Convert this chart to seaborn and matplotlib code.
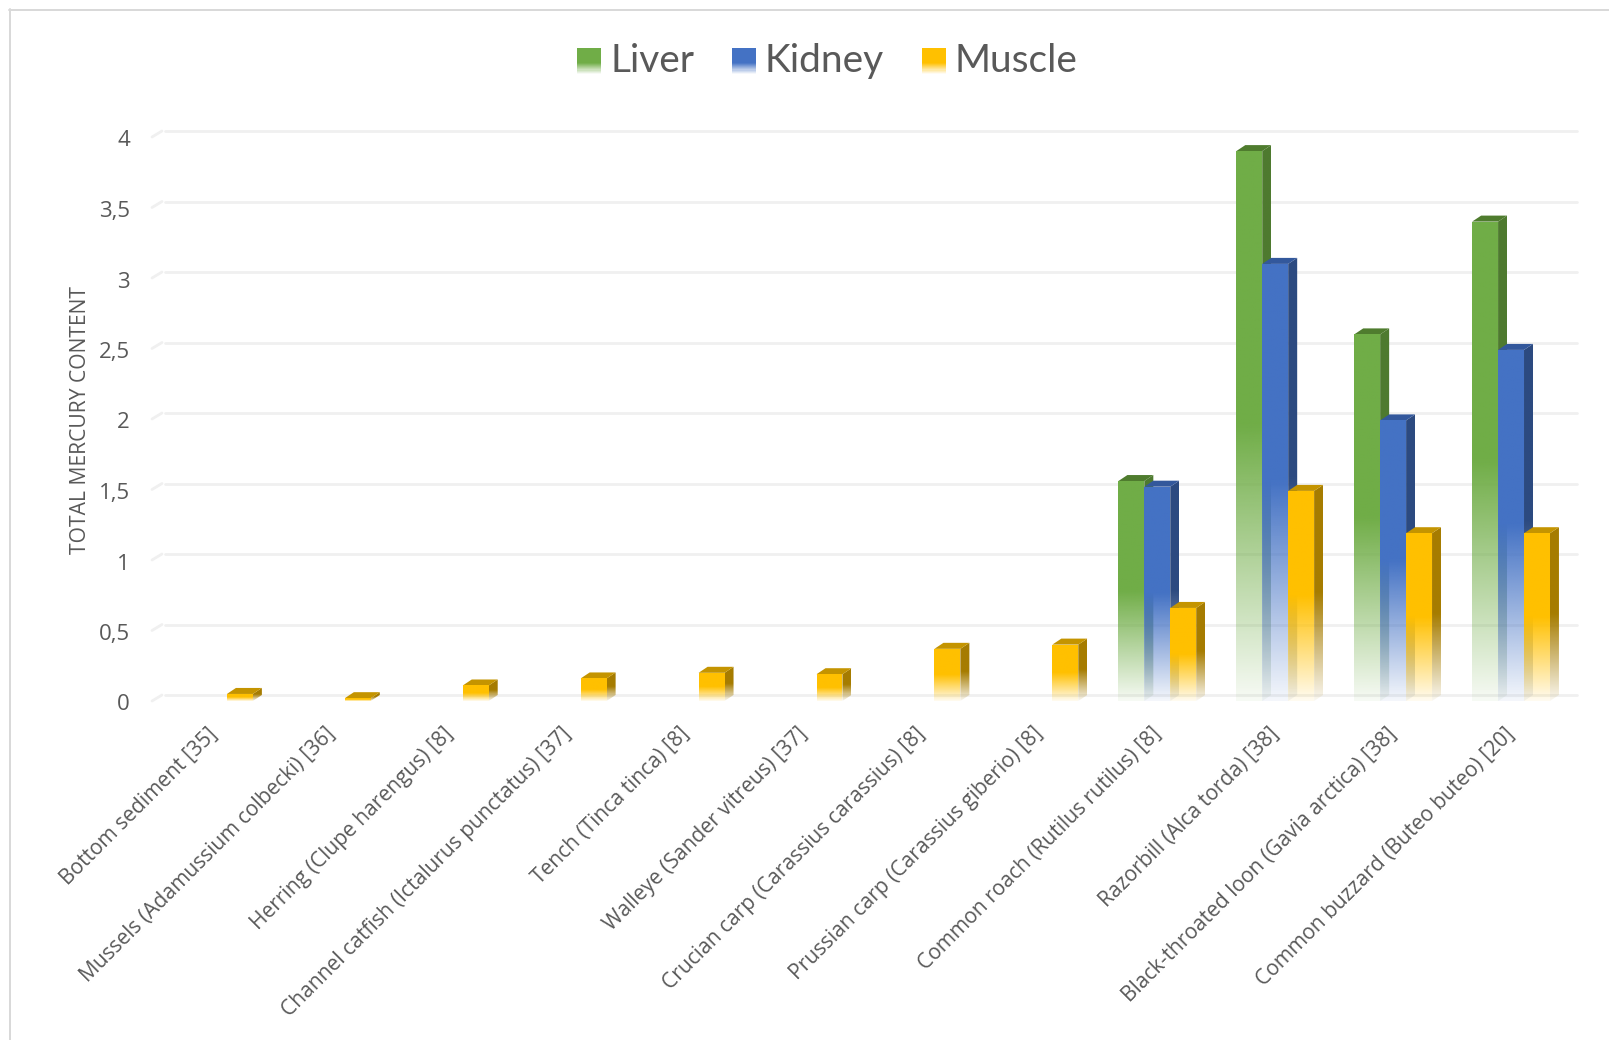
import numpy as np
import pandas as pd
import matplotlib
matplotlib.use("Agg")
import matplotlib.pyplot as plt
import seaborn as sns
from matplotlib.colors import to_rgb
from matplotlib.legend_handler import HandlerBase
from matplotlib.patches import Patch, Polygon, Rectangle
from matplotlib.transforms import ScaledTranslation

categories = [
    "Bottom sediment [35]", "Mussels (Adamussium colbecki) [36]", "Herring (Clupe harengus) [8]",
    "Channel catfish (Ictalurus punctatus) [37]", "Tench (Tinca tinca) [8]", "Walleye (Sander vitreus) [37]",
    "Crucian carp (Carassius carassius) [8]", "Prussian carp (Carassius giberio) [8]",
    "Common roach (Rutilus rutilus) [8]", "Razorbill (Alca torda) [38]",
    "Black-throated loon (Gavia arctica) [38]", "Common buzzard (Buteo buteo) [20]",
]
liver = [np.nan] * 8 + [1.56, 3.9, 2.6, 3.4]
kidney = [np.nan] * 8 + [1.52, 3.1, 1.99, 2.49]
muscle = [0.05, 0.02, 0.11, 0.16, 0.2, 0.19, 0.37, 0.4, 0.66, 1.49, 1.19, 1.19]
series_names = ["Liver", "Kidney", "Muscle"]
front_colors = ["#70ad47", "#4472c4", "#ffc000"]
side_colors = ["#4e7a2f", "#2c4a80", "#a67c00"]
top_colors = ["#4f7c2e", "#33589c", "#c49400"]
y_ticks = [0, 0.5, 1, 1.5, 2, 2.5, 3, 3.5, 4]
y_labels = ["0", "0,5", "1", "1,5", "2", "2,5", "3", "3,5", "4"]

W, H = 1609, 1040
DX, DY = 9, 6
LEFT, RIGHT = 155, 1570
TEXT = "#595959"
sns.set_theme(style="white")
plt.rcParams["font.family"] = ["Open Sans", "DejaVu Sans"]

df = pd.DataFrame({"category": categories, "Liver": liver, "Kidney": kidney, "Muscle": muscle})
long_df = df.melt(id_vars="category", var_name="organ", value_name="value")

fig = plt.figure(figsize=(W / 100, H / 100), dpi=100)
ax = fig.add_axes([LEFT / W, 1 - 701 / H, (RIGHT - LEFT) / W, 564 / H])
sns.barplot(data=long_df, x="category", y="value", hue="organ", order=categories,
            hue_order=series_names, palette=front_colors, width=0.66, gap=0, errorbar=None,
            legend=False, ax=ax, zorder=1)
ax.set_xlim(-0.5, 11.5)
ax.set_ylim(0, 4)
sns.despine(ax=ax, left=True, bottom=True)

# per-unit scale so that the 3-D depth can be given in pixels
ux = (RIGHT - LEFT) / 12
uy = 564 / 4
dx, dy = DX / ux, DY / uy


def alpha_ramp(n=128):
    """Bottom -> top opacity: fades out in the lower half of a bar."""
    t = np.linspace(0, 1, n)
    return np.clip(0.06 + 0.94 * t / 0.5, 0, 1)


def gradient_fill(color, clip_xy, extent, zorder):
    a = alpha_ramp()
    img = np.ones((a.size, 1, 4))
    img[..., :3] = to_rgb(color)
    img[:, 0, 3] = a
    im = ax.imshow(img, origin="lower", extent=extent, aspect="auto", zorder=zorder,
                   interpolation="bilinear")
    clip = Polygon(clip_xy, closed=True, transform=ax.transData, facecolor="none", edgecolor="none")
    ax.add_patch(clip)
    im.set_clip_path(clip)


# gridlines: the back wall line plus a short slanted piece on the floor side
ytrans = ax.get_yaxis_transform()
back = ytrans + ScaledTranslation(DX / 100 * 1.1, DY / 100, fig.dpi_scale_trans)
for v in y_ticks:
    ax.plot([0, 1.005 - 10 / 1416], [v, v], color="#f0f0f0", lw=2, transform=back, clip_on=False, zorder=0.5)
    ax.plot([-3 / 1416, 7 / 1416], [v, v + DY / uy], color="#f0f0f0", lw=2, transform=ytrans,
            clip_on=False, zorder=0.5)

# replace seaborn's flat rectangles with translucent 3-D columns, reading their geometry
z = 2
for cont, front, side, top in zip(ax.containers, front_colors, side_colors, top_colors):
    for bar in cont:
        h = bar.get_height()
        bar.set_visible(False)
        if not np.isfinite(h) or h <= 0:
            continue
        x0, x1 = bar.get_x(), bar.get_x() + bar.get_width()
        gradient_fill(side, [(x1, 0), (x1 + dx, dy), (x1 + dx, h + dy), (x1, h)],
                      (x1, x1 + dx, 0, h + dy), z)
        gradient_fill(front, [(x0, 0), (x1, 0), (x1, h), (x0, h)], (x0, x1, 0, h), z + 0.2)
        ax.add_patch(Polygon([(x0, h), (x1, h), (x1 + dx, h + dy), (x0 + dx, h + dy)], closed=True,
                             facecolor=top, edgecolor="none", zorder=z + 0.1, clip_on=False))
    z += 1
ax.set_xlim(-0.5, 11.5)
ax.set_ylim(0, 4)

ax.set_yticks(y_ticks, y_labels)
ax.tick_params(axis="y", length=0, pad=18, labelsize=16, labelcolor=TEXT)
ax.set_xticks(range(len(categories)))
ax.set_xticklabels(categories, rotation=45, ha="right", rotation_mode="anchor", fontsize=15.1, color=TEXT)
ax.tick_params(axis="x", length=0, pad=16)
ax.set_xlabel("")
ax.set_ylabel("")
for lab in ax.get_xticklabels():
    lab.set_transform(lab.get_transform() + ScaledTranslation(-0.07, 0, fig.dpi_scale_trans))
for lab in ax.get_yticklabels():
    lab.set_transform(lab.get_transform() + ScaledTranslation(0, -0.015, fig.dpi_scale_trans))
fig.text(81 / W, 1 - 420 / H, "TOTAL MERCURY CONTENT", rotation=90, ha="center", va="center",
         fontsize=15.2, color=TEXT)


class GradientSwatch(HandlerBase):
    def create_artists(self, legend, orig_handle, xdescent, ydescent, width, height, fontsize, trans):
        c = orig_handle.get_facecolor()[:3]
        n = 24
        shift = -2.0
        out = []
        for i in range(n):
            t = (i + 0.5) / n
            a = float(np.clip(t / 0.42, 0, 1))
            out.append(Rectangle((-xdescent + 2, -ydescent + shift + height * i / n), width, height / n * 1.02,
                                 facecolor=c, alpha=a, edgecolor="none", transform=trans))
        return out


handles = [Patch(facecolor=c, label=n) for c, n in zip(front_colors, series_names)]
fig.legend(handles=handles, loc="center", bbox_to_anchor=(826 / W, 1 - 61 / H), ncol=3, frameon=False,
           labelcolor=TEXT, handlelength=0.62, handleheight=0.62, handletextpad=0.3,
           columnspacing=0.9, handler_map={Patch: GradientSwatch()},
           prop={"family": ["Lato", "DejaVu Sans"], "size": 28})

fig.add_artist(plt.Line2D([10 / W, 10 / W], [0, 1 - 9 / H], color="#d9d9d9", lw=1.44))
fig.add_artist(plt.Line2D([9 / W, 1], [1 - 10 / H, 1 - 10 / H], color="#d9d9d9", lw=1.44))

fig.savefig("out.png", dpi=100, facecolor="white")
